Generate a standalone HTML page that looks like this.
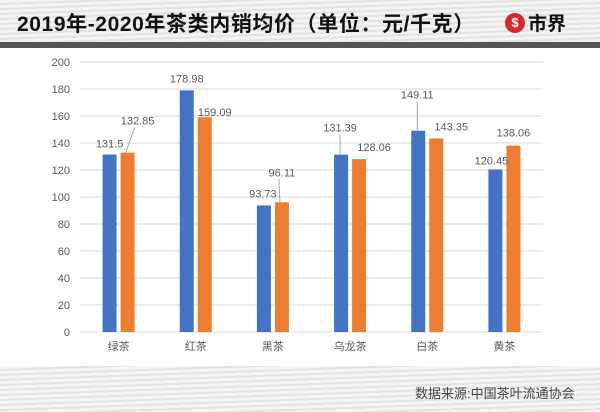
<!DOCTYPE html>
<html><head><meta charset="utf-8"><style>
body{margin:0;width:600px;height:412px;overflow:hidden;background:#fff;font-family:"Liberation Sans","Noto Sans CJK SC",sans-serif;}
.hdr{position:absolute;left:0;top:0;width:600px;height:44px;background:repeating-linear-gradient(178deg,#f3f3f3 0 3px,#e2e2e2 3px 5px);}
.bar{position:absolute;left:0;top:42px;width:600px;height:6px;background:#555;}
.ftr{position:absolute;left:0;top:366px;width:600px;height:46px;background:repeating-linear-gradient(178deg,#f4f4f4 0 3px,#e3e3e3 3px 5px);}
</style></head><body>
<div class="hdr"></div>
<div class="bar"></div>
<div class="ftr"></div>
<div style="position:absolute;left:17px;top:8px;font-size:21px;letter-spacing:0.6px;font-weight:bold;color:#111;font-family:'Liberation Sans','Noto Sans CJK SC',sans-serif;">2019年-2020年茶类内销均价（单位：元/千克）</div>
<div style="position:absolute;left:505px;top:9px;font-size:19px;font-weight:bold;color:#111;display:flex;align-items:center;">
<span style="display:inline-block;width:20px;height:20px;border-radius:50%;background:#d8282a;color:#fff;font-size:13px;text-align:center;line-height:20px;margin-right:3px;">$</span>市界</div>
<div style="position:absolute;left:415px;top:383px;font-size:13px;color:#444;">数据来源:中国茶叶流通协会</div>
<svg id="c" width="600" height="412" style="position:absolute;left:0;top:0"></svg>
<script>
const categories=["绿茶","红茶","黑茶","乌龙茶","白茶","黄茶"];
const s2019=[131.5,178.98,93.73,131.39,149.11,120.45];
const s2020=[132.85,159.09,96.11,128.06,143.35,138.06];
const labels2019=["131.5","178.98","93.73","131.39","149.11","120.45"];
const labels2020=["132.85","159.09","96.11","128.06","143.35","138.06"];
const yTicks=[0,20,40,60,80,100,120,140,160,180,200];
// label placement tweaks (styling)
const lb={dx:[0,0,-1,-1,-1,-4],dy:[7,8,8,23,32,5]};
const lo={dx:[10,10,0,15,15,0],dy:[28,1,26,8,8,9]};
const leadB=[false,false,false,true,true,false];
const leadO=[true,false,true,false,false,false];
const svg=document.getElementById('c');const NS='http://www.w3.org/2000/svg';
const x0=80,x1=543,y0=332,y1=62;
const y=v=>y0-(v/200)*(y0-y1);
const cx=i=>x0+(x1-x0)/6*(i+0.5);
function mk(t,a,p){const e=document.createElementNS(NS,t);for(const k in a)e.setAttribute(k,a[k]);(p||svg).appendChild(e);return e;}
yTicks.forEach(t=>{
 const g=mk('line',{x1:x0,x2:x1,y1:y(t),y2:y(t),stroke:'#d9d9d9','stroke-width':1});
 
 
 const l=mk('text',{x:70,y:y(t)+4,'text-anchor':'end','font-size':11,fill:'#595959','font-family':'Liberation Sans,sans-serif'});l.textContent=t;
 
 
});
categories.forEach((c,i)=>{
 const bx=cx(i)-16,ox=cx(i)+2,w=14;
 const b=mk('rect',{x:bx,y:y(s2019[i]),width:w,height:y0-y(s2019[i]),fill:'#4472c4'});
 
 
 const o=mk('rect',{x:ox,y:y(s2020[i]),width:w,height:y0-y(s2020[i]),fill:'#ed7d31'});
 
 
 const tbx=bx+w/2+lb.dx[i],tby=y(s2019[i])-lb.dy[i];
 const t1=mk('text',{x:tbx,y:tby,'text-anchor':'middle','font-size':11,fill:'#595959','font-family':'Liberation Sans,sans-serif'});t1.textContent=labels2019[i];
 
 
 if(leadB[i]){const ln=mk('line',{x1:tbx,x2:tbx,y1:tby+3,y2:y(s2019[i]),stroke:'#a6a6a6'});
  
  }
 const tox=ox+w/2+lo.dx[i],toy=y(s2020[i])-lo.dy[i];
 const t2=mk('text',{x:tox,y:toy,'text-anchor':'middle','font-size':11,fill:'#595959','font-family':'Liberation Sans,sans-serif'});t2.textContent=labels2020[i];
 
 
 if(leadO[i]){const ln=mk('line',{x1:tox-3,x2:ox+w/2-2,y1:toy+3,y2:y(s2020[i]),stroke:'#a6a6a6'});
  
  }
 const cl=mk('text',{x:cx(i),y:350,'text-anchor':'middle','font-size':11,fill:'#595959','font-family':'Liberation Sans,Noto Sans CJK SC,sans-serif'});cl.textContent=c;
 
 
});
</script>
</body></html>
